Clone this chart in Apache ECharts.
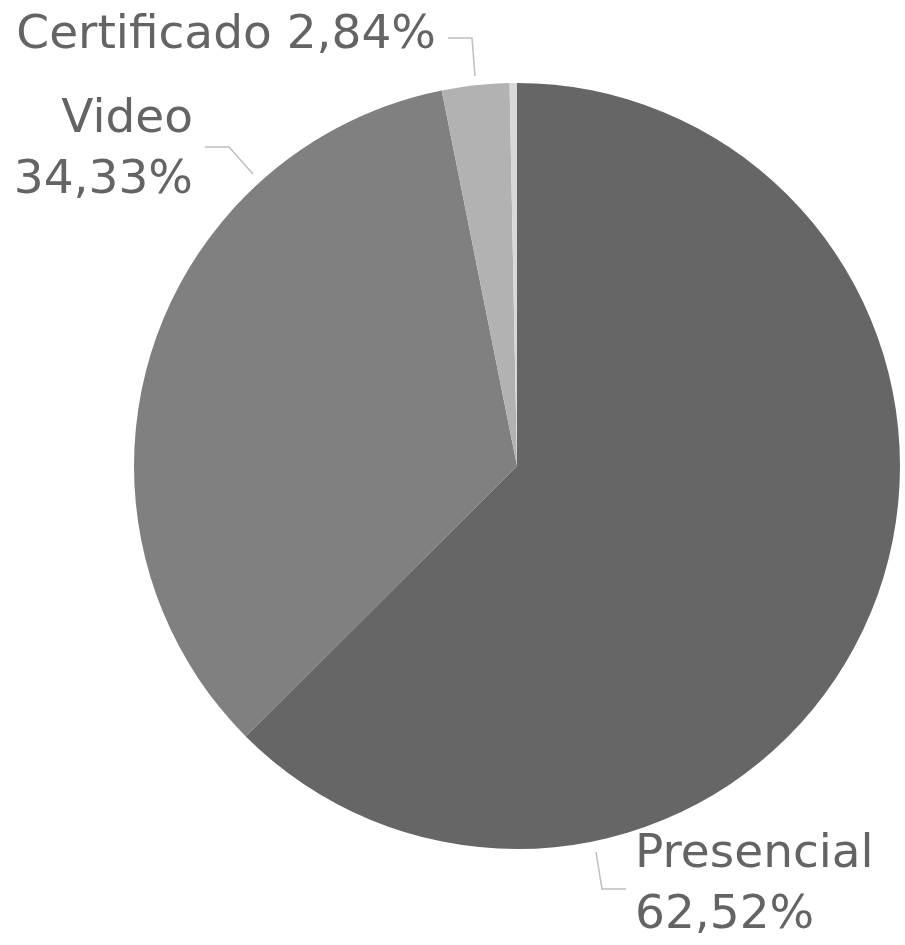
<!DOCTYPE html>
<html>
<head>
<meta charset="utf-8">
<script src="https://cdn.jsdelivr.net/npm/echarts@6/dist/echarts.min.js"></script>
<style>
  html, body { margin: 0; padding: 0; background: #fff; }
  #chart { width: 905px; height: 945px; }
</style>
</head>
<body>
<div id="chart"></div>
<script>
  let categories = ['Presencial', 'Video', 'Certificado', 'Otro']
  let percents = [62.52, 34.33, 2.84, 0.31]
  let colors = ['#666666', '#808080', '#b2b2b2', '#d9d9d9']

  // where each label sits and how its leader line runs
  let labelSpots = [
    { x: 635, y: 885, align: 'left', line: [[596, 852], [602, 889], [626, 889]] },
    { x: 193, y: 150, align: 'right', line: [[253, 174], [229, 147], [205, 147]] },
    { x: 436, y: 36, align: 'right', line: [[475, 76], [472, 38], [448, 38]] },
    null
  ]

  let chart = echarts.init(document.getElementById('chart'))

  let pieData = categories.map(function (name, i) {
    return {
      name: name,
      value: percents[i],
      itemStyle: { color: colors[i] },
      label: { show: i < 3 },
      labelLine: { show: i < 3 }
    }
  })

  let option = {
    animation: false,
    series: [
      {
        type: 'pie',
        center: [517, 466],
        radius: 383,
        startAngle: 90,
        clockwise: true,
        avoidLabelOverlap: false,
        data: pieData,
        itemStyle: { borderWidth: 0 },
        label: {
          position: 'outside',
          color: '#646464',
          fontFamily: 'DejaVu Sans',
          fontSize: 47,
          lineHeight: 61,
          formatter: function (p) {
            let pct = p.value.toFixed(2).replace('.', ',') + '%'
            if (p.dataIndex === 2) return p.name + ' ' + pct
            return p.name + '\n' + pct
          }
        },
        labelLine: {
          length: 30,
          length2: 25,
          lineStyle: { color: '#bfbfbf', width: 1.5 }
        },
        labelLayout: function (params) {
          let s = labelSpots[params.dataIndex]
          if (!s) return {}
          return {
            x: s.x, y: s.y, align: s.align, verticalAlign: 'middle',
            labelLinePoints: s.line
          }
        }
      }
    ]
  }

  chart.setOption(option)
</script>
</body>
</html>
